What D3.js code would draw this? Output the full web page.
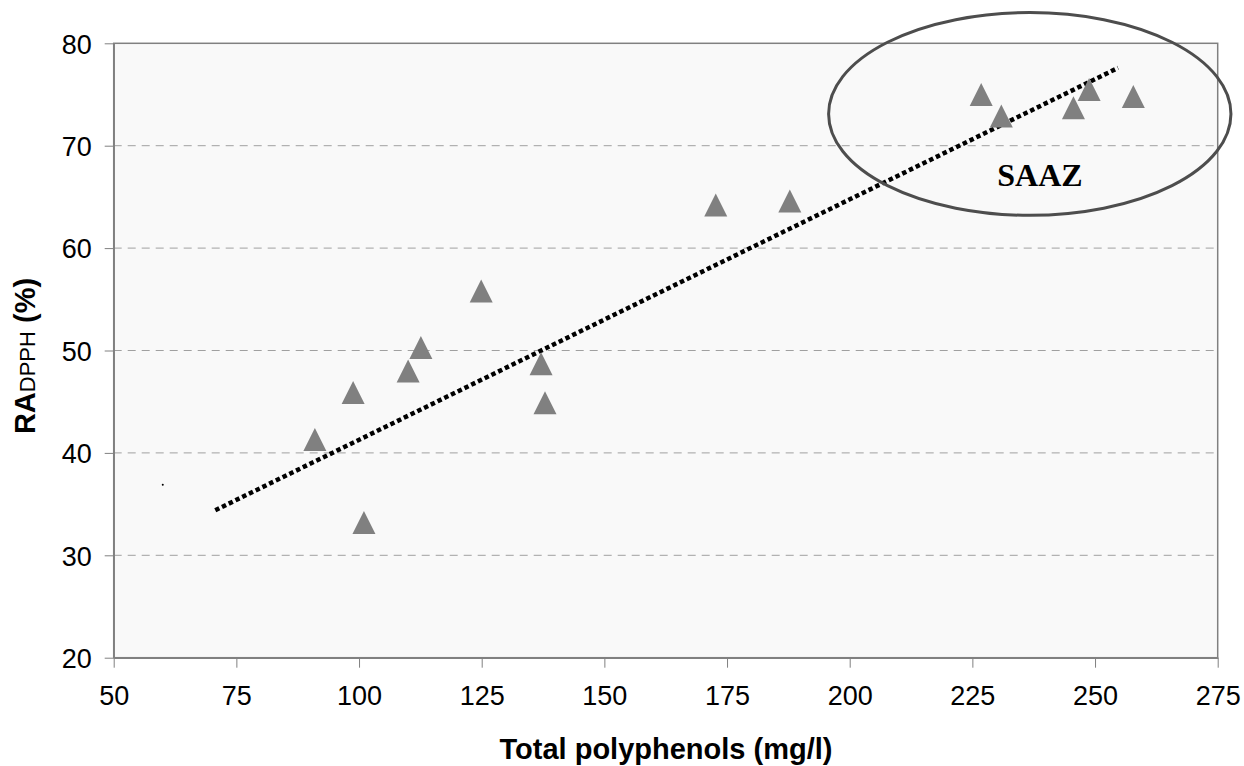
<!DOCTYPE html>
<html>
<head>
<meta charset="utf-8">
<script src="https://cdn.jsdelivr.net/npm/d3@7"></script>
<style>
  body { margin: 0; background: #fff; }
  svg { display: block; }
</style>
</head>
<body>
<svg id="chart"></svg>
<script>
const w = 1244;
const h = 766;
const margin = { top: 43.3, right: 26.3, bottom: 108.3, left: 113.7 };

// data
const polyphenols = [91, 98.8, 101, 110, 112.6, 124.9, 137.1, 137.9, 172.7, 187.8, 226.8, 230.9, 245.6, 248.8, 257.8];
const radpph = [41.3, 45.9, 33.2, 48.0, 50.3, 55.8, 48.7, 44.9, 64.2, 64.6, 75.0, 72.9, 73.7, 75.5, 74.8];
const strayX = [60];
const strayY = [36.9];
const trendX = [70.7, 254.7];
const trendY = [34.4, 77.6];
const xTicks = [50, 75, 100, 125, 150, 175, 200, 225, 250, 275];
const yTicks = [20, 30, 40, 50, 60, 70, 80];
// SAAZ group ellipse (data units)
const saazCenter = [236.7, 73.1];
const saazRadius = [41, 9.9];

const svg = d3.select("#chart").attr("width", w).attr("height", h);

const xScale = d3.scaleLinear().domain([50, 275]).range([margin.left, w - margin.right]);
const yScale = d3.scaleLinear().domain([20, 80]).range([h - margin.bottom, margin.top]);
const x0 = xScale(50), x1 = xScale(275), y0 = yScale(20), y1 = yScale(80);

// plot area
svg.append("rect")
  .attr("x", x0).attr("y", y1)
  .attr("width", x1 - x0).attr("height", y0 - y1)
  .attr("fill", "#f9f9f9");

// gridlines
svg.append("g")
  .selectAll("line")
  .data(yTicks.filter((d) => d > 20 && d < 80))
  .enter()
  .append("line")
  .attr("x1", x0).attr("x2", x1)
  .attr("y1", (d) => yScale(d)).attr("y2", (d) => yScale(d))
  .attr("stroke", "#a0a0a0")
  .attr("stroke-width", 1)
  .attr("stroke-dasharray", "8,6");

svg.append("rect")
  .attr("x", x0).attr("y", y1)
  .attr("width", x1 - x0).attr("height", y0 - y1)
  .attr("fill", "none")
  .attr("stroke", "#808080")
  .attr("stroke-width", 1.5);

// axes
const xAxis = d3.axisBottom(xScale).tickValues(xTicks).tickSize(10).tickPadding(18).tickSizeOuter(0);
const yAxis = d3.axisLeft(yScale).tickValues(yTicks).tickSize(9).tickPadding(13).tickSizeOuter(0);

const gx = svg.append("g").attr("transform", "translate(0," + y0 + ")").call(xAxis);
const gy = svg.append("g").attr("transform", "translate(" + x0 + ",0)").call(yAxis);

[gx, gy].forEach((g) => {
  g.select(".domain").attr("stroke", "#808080").attr("stroke-width", 1.5);
  g.selectAll(".tick line").attr("stroke", "#808080").attr("stroke-width", 1);
  g.selectAll(".tick text")
    .attr("fill", "#000")
    .style("font-family", "Arial, 'Liberation Sans', sans-serif")
    .style("font-size", "27px");
});
gy.selectAll(".tick text").attr("dy", "0.36em");

// trend line
const trend = trendX.map((d, i) => [d, trendY[i]]);
svg.append("path")
  .datum(trend)
  .attr("d", d3.line().x((d) => xScale(d[0])).y((d) => yScale(d[1])))
  .attr("fill", "none")
  .attr("stroke", "#000")
  .attr("stroke-width", 4.5)
  .attr("stroke-dasharray", "4.5,3");

// stray point
svg.append("g")
  .selectAll("circle")
  .data(strayX.map((d, i) => [d, strayY[i]]))
  .enter()
  .append("circle")
  .attr("cx", (d) => xScale(d[0]))
  .attr("cy", (d) => yScale(d[1]))
  .attr("r", 1)
  .attr("fill", "#000");

// triangles
const tri = "M0,-11.5L11.5,11.5L-11.5,11.5Z";
svg.append("g")
  .selectAll("path")
  .data(polyphenols.map((d, i) => [d, radpph[i]]))
  .enter()
  .append("path")
  .attr("d", tri)
  .attr("transform", (d) => "translate(" + xScale(d[0]) + "," + yScale(d[1]) + ")")
  .attr("fill", "#808080");

// SAAZ ellipse
const cx = xScale(saazCenter[0]);
const cy = yScale(saazCenter[1]);
svg.append("ellipse")
  .attr("cx", cx).attr("cy", cy)
  .attr("rx", xScale(saazCenter[0] + saazRadius[0]) - cx)
  .attr("ry", cy - yScale(saazCenter[1] + saazRadius[1]))
  .attr("fill", "none")
  .attr("stroke", "#4d4d4d")
  .attr("stroke-width", 3);

svg.append("text")
  .attr("x", 1040)
  .attr("y", 186)
  .attr("text-anchor", "middle")
  .style("font-family", "'Times New Roman', 'Liberation Serif', serif")
  .style("font-weight", "bold")
  .style("font-size", "32px")
  .text("SAAZ");

// axis titles
svg.append("text")
  .attr("x", 666)
  .attr("y", 759)
  .attr("text-anchor", "middle")
  .style("font-family", "Arial, 'Liberation Sans', sans-serif")
  .style("font-weight", "bold")
  .style("font-size", "29px")
  .text("Total polyphenols (mg/l)");

const yTitle = svg.append("text")
  .attr("transform", "translate(35,356) rotate(-90)")
  .attr("text-anchor", "middle")
  .style("font-family", "Arial, 'Liberation Sans', sans-serif")
  .style("font-weight", "bold")
  .style("font-size", "29px");
yTitle.append("tspan").text("RA");
yTitle.append("tspan").style("font-size", "22px").style("font-weight", "normal").text("DPPH");
yTitle.append("tspan").text(" (%)");
</script>
</body>
</html>
